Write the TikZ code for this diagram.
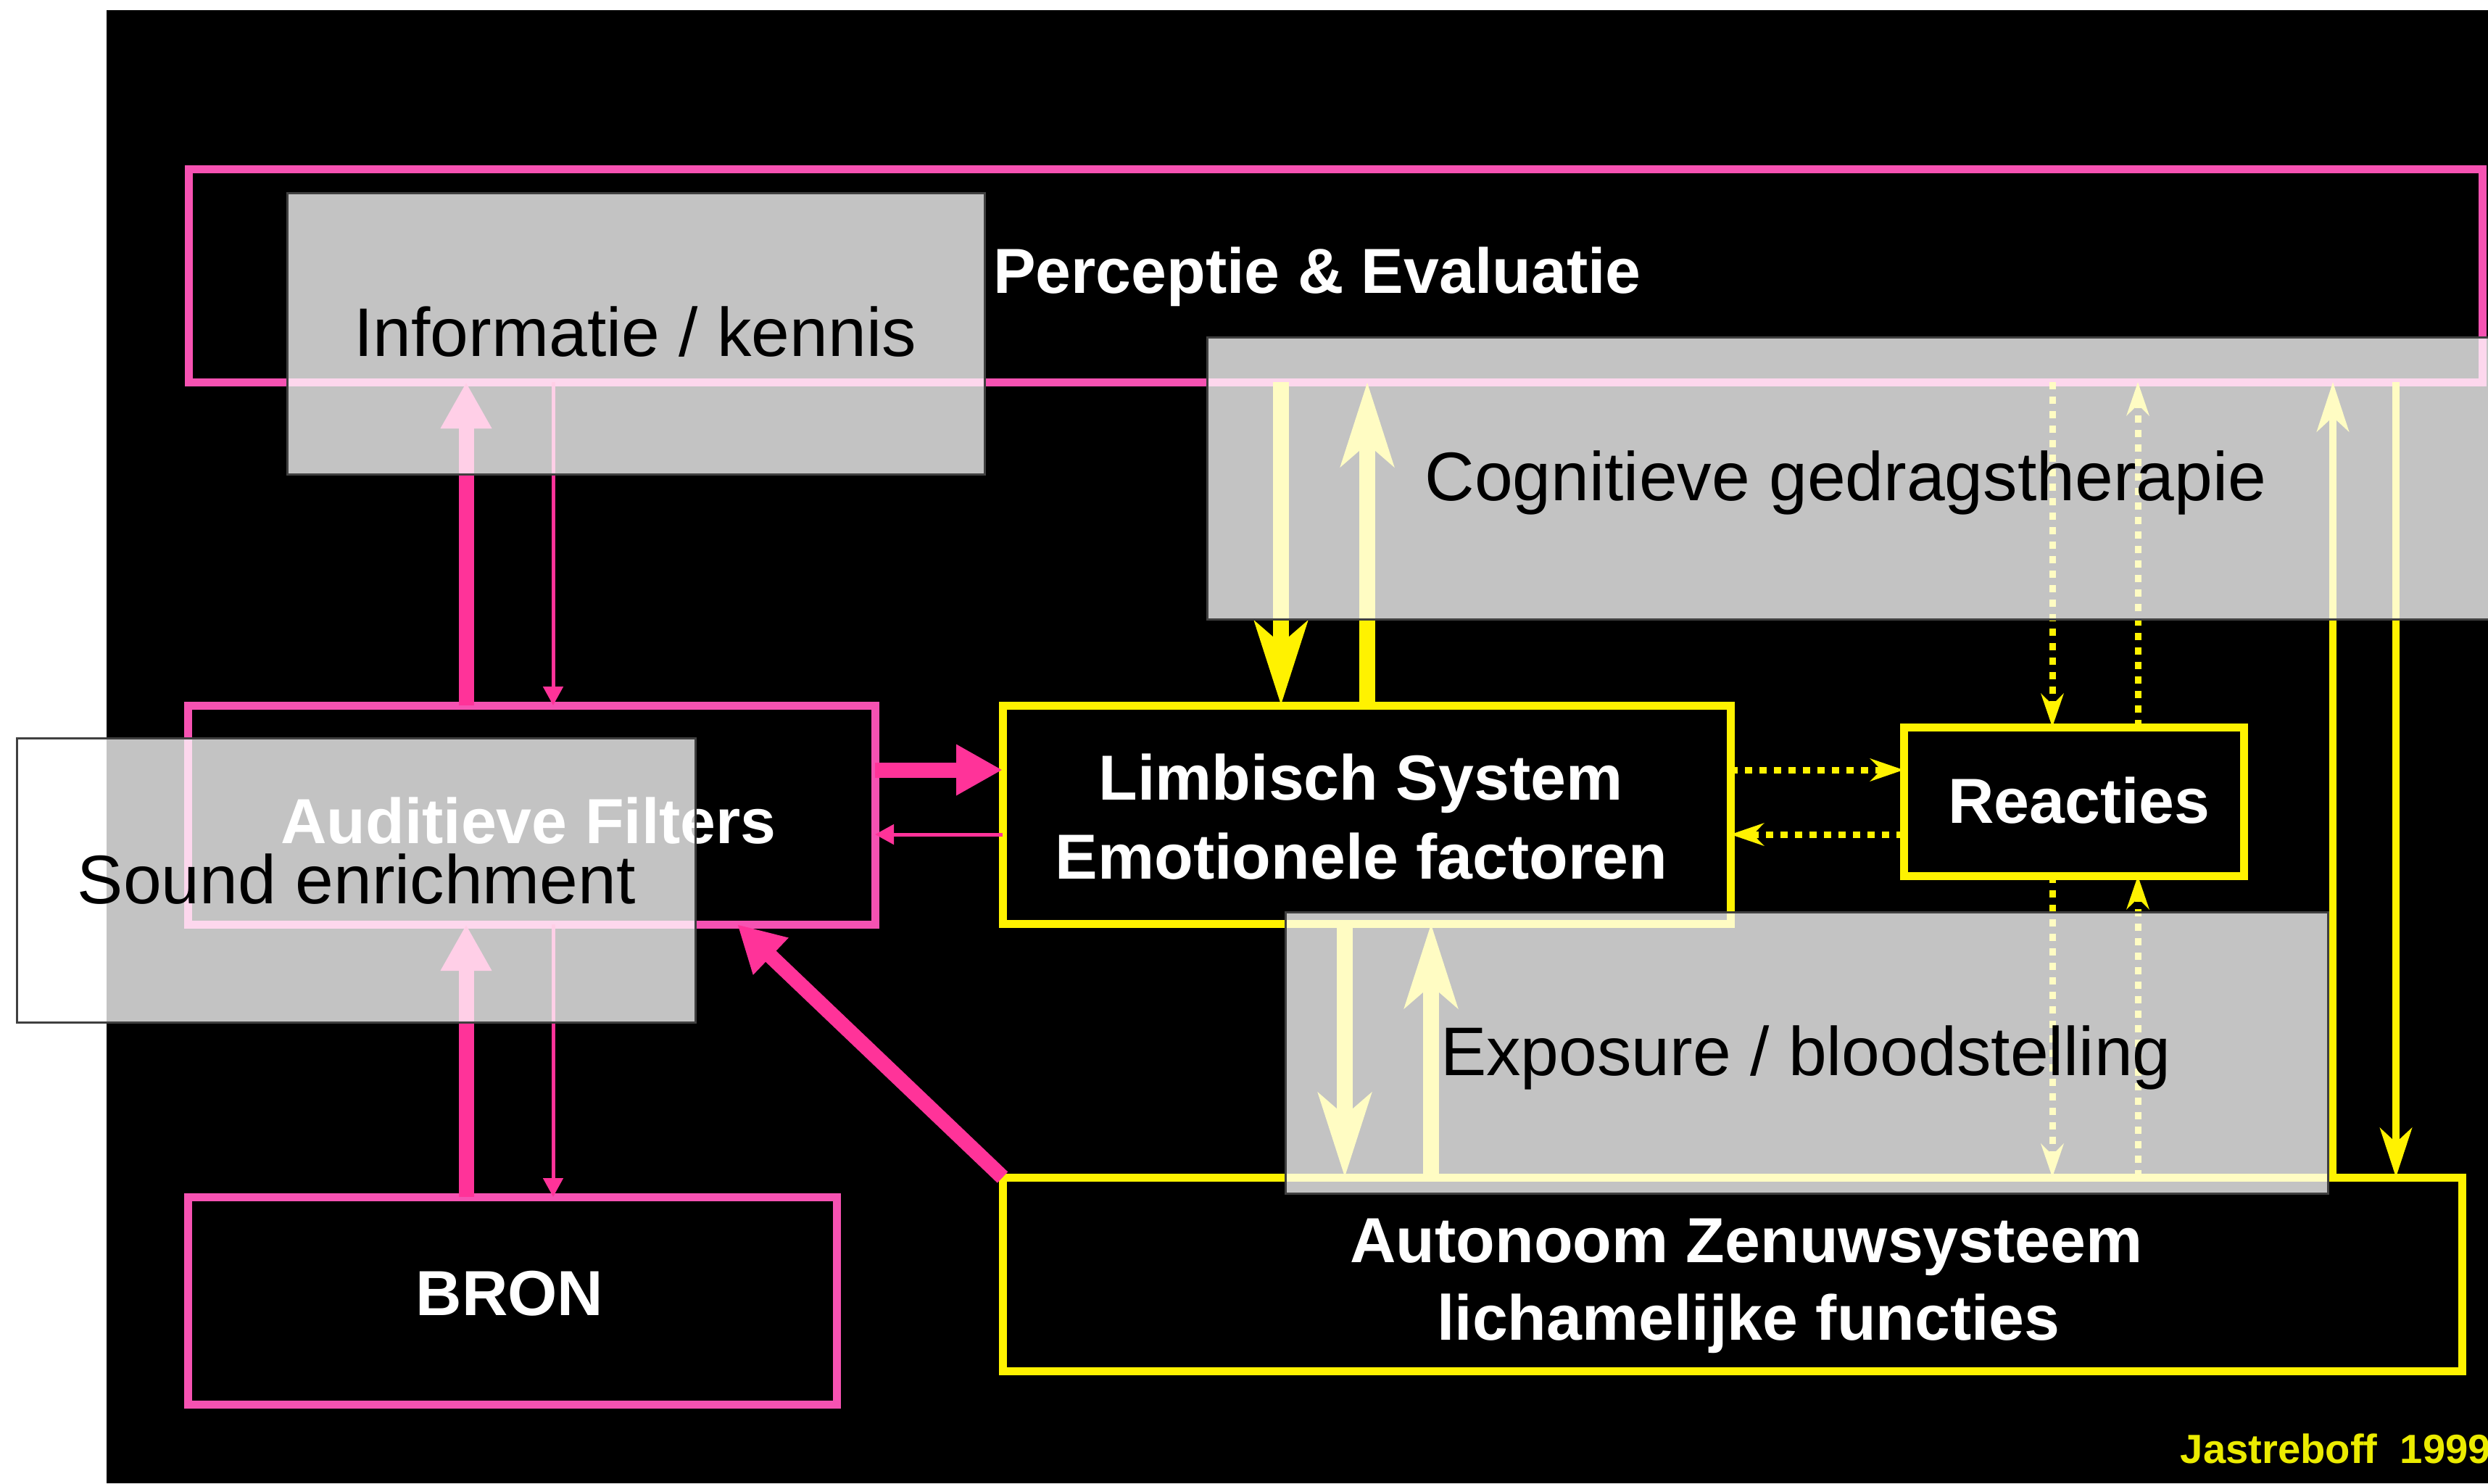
\documentclass[tikz,border=0pt]{standalone}
\usepackage{fontspec}
\setmainfont{Liberation Sans}
\usetikzlibrary{arrows.meta,fit}
\definecolor{boxpink}{RGB}{246,82,178}
\definecolor{arrowpink}{RGB}{255,51,153}
\definecolor{boxgrey}{RGB}{195,195,195}
\definecolor{framegrey}{RGB}{64,64,64}
\definecolor{signyellow}{RGB}{235,235,0}
\tikzset{
  pinkbox/.style={draw=boxpink, line width=1.1mm, inner sep=0pt, outer sep=0pt},
  yellowbox/.style={draw=yellow, line width=1.1mm, inner sep=0pt, outer sep=0pt},
  wlabel/.style={text=white, font=\bfseries\fontsize{25}{30}\selectfont, anchor=base, inner sep=0pt},
  blabel/.style={text=black, font=\fontsize{27}{32}\selectfont, anchor=base, inner sep=0pt},
  greyfill/.style={fill=boxgrey, inner sep=0pt, outer sep=0pt},
  greyframe/.style={draw=framegrey, line width=0.3mm, inner sep=0pt, outer sep=0pt},
  pthick/.style={draw=arrowpink, line width=2.1mm, -{Triangle[length=6.4mm,width=6.6mm]}},
  pthin/.style={draw=arrowpink, line width=0.5mm, -{Triangle[length=2.6mm,width=2.7mm]}},
  ythick/.style={draw=yellow, line width=2.2mm, -{Stealth[length=11.5mm,width=7.2mm,inset=3mm]}},
  ythin/.style={draw=yellow, line width=1mm, -{Stealth[length=6.8mm,width=4.4mm,inset=2mm]}},
  ydot/.style={draw=yellow, line width=0.9mm, dash pattern=on 1mm off 1mm, %
    -{Stealth[length=4.6mm,width=3.1mm,inset=1.5mm]}}
}
\begin{document}
\begin{tikzpicture}
      \useasboundingbox (0,0) rectangle (34.32,-20.46) ;
      \fill[white] (0,0) rectangle (34.32,-20.46) ;
      \fill[black] (1.47,-0.14) rectangle (34.32,-20.46) ;
      % boxes
      \node[pinkbox, minimum width=31.64cm, minimum height=2.94cm] (perc) at (18.42,-3.80) {} ;
      \node[pinkbox, minimum width=9.48cm, minimum height=3.02cm] (aud) at (7.33,-11.24) {} ;
      \node[pinkbox, minimum width=8.95cm, minimum height=2.86cm] (bron) at (7.065,-17.94) {} ;
      \node[yellowbox, minimum width=10.04cm, minimum height=3.01cm] (limb) at (18.85,-11.235) {} ;
      \node[yellowbox, minimum width=4.69cm, minimum height=2.05cm] (reac) at (28.605,-11.055) {} ;
      \node[yellowbox, minimum width=20.13cm, minimum height=2.67cm] (auto) at (23.895,-17.575) {} ;
      % columns and rows of the connectors
      \coordinate (pkup) at (6.43,0) ;
      \coordinate (pkdn) at (7.63,0) ;
      \coordinate (pkdiag) at (10.17,0) ;
      \coordinate (lbdn) at (17.67,0) ;
      \coordinate (lbup) at (18.86,0) ;
      \coordinate (andn) at (18.55,0) ;
      \coordinate (anup) at (19.74,0) ;
      \coordinate (rcdn) at (28.31,0) ;
      \coordinate (rcup) at (29.49,0) ;
      \coordinate (faup) at (32.18,0) ;
      \coordinate (fadn) at (33.05,0) ;
      \coordinate (rowa) at (0,-10.62) ;
      \coordinate (rowb) at (0,-11.51) ;
      % pink connectors
      \draw[pthick] (aud.north -| pkup) -- (perc.south -| pkup) ;
      \draw[pthin] (perc.south -| pkdn) -- (aud.north -| pkdn) ;
      \draw[pthick] (bron.north -| pkup) -- (aud.south -| pkup) ;
      \draw[pthin] (aud.south -| pkdn) -- (bron.north -| pkdn) ;
      \draw[pthick] (aud.east |- rowa) -- (limb.west |- rowa) ;
      \draw[pthin] (limb.west |- rowb) -- (aud.east |- rowb) ;
      \draw[pthick] (auto.north west) -- (aud.south -| pkdiag) ;
      % yellow connectors
      \draw[ythick] (perc.south -| lbdn) -- (limb.north -| lbdn) ;
      \draw[ythick] (limb.north -| lbup) -- (perc.south -| lbup) ;
      \draw[ythick] (limb.south -| andn) -- (auto.north -| andn) ;
      \draw[ythick] (auto.north -| anup) -- (limb.south -| anup) ;
      \draw[ythin] (auto.north -| faup) -- (perc.south -| faup) ;
      \draw[ythin] (perc.south -| fadn) -- (auto.north -| fadn) ;
      \draw[ydot] (limb.east |- rowa) -- (reac.west |- rowa) ;
      \draw[ydot] (reac.west |- rowb) -- (limb.east |- rowb) ;
      \draw[ydot] (perc.south -| rcdn) -- (reac.north -| rcdn) ;
      \draw[ydot] (reac.north -| rcup) -- (perc.south -| rcup) ;
      \draw[ydot] (reac.south -| rcdn) -- (auto.north -| rcdn) ;
      \draw[ydot] (auto.north -| rcup) -- (reac.south -| rcup) ;
      % labels
      \node[wlabel] (perctxt) at (18.17,-4.04) {Perceptie \& Evaluatie} ;
      \node[wlabel] (audtxt) at (7.29,-11.63) {Auditieve Filters} ;
      \node[wlabel] (limbtxt) at (18.77,-11.03) {Limbisch System} ;
      \node[wlabel] (emotxt) at (18.78,-12.12) {Emotionele factoren} ;
      \node[wlabel] (reactxt) at (28.68,-11.35) {Reacties} ;
      \node[wlabel] (brontxt) at (7.03,-18.14) {BRON} ;
      \node[wlabel] (autotxt) at (24.09,-17.41) {Autonoom Zenuwsysteem} ;
      \node[wlabel] (lichtxt) at (24.12,-18.48) {lichamelijke functies} ;
      % therapy boxes
      \begin{scope}[blend mode=screen]
        \node[greyfill, minimum width=9.62cm, minimum height=3.88cm] (info) at (8.77,-4.60) {} ;
        \node[greyfill, minimum width=17.70cm, minimum height=3.89cm] (cogn) at (25.50,-6.595) {} ;
        \node[greyfill, minimum width=9.36cm, minimum height=3.92cm] (sound) at (4.91,-12.14) {} ;
        \node[greyfill, minimum width=14.38cm, minimum height=3.88cm] (expo) at (24.92,-14.52) {} ;
      \end{scope}
      \node[greyframe, fit=(info)] (infoframe) {} ;
      \node[greyframe, fit=(cogn)] (cognframe) {} ;
      \node[greyframe, fit=(sound)] (soundframe) {} ;
      \node[greyframe, fit=(expo)] (expoframe) {} ;
      \node[blabel] (infotxt) at (8.76,-4.91) {Informatie / kennis} ;
      \node[blabel] (cogntxt) at (25.46,-6.90) {Cognitieve gedragstherapie} ;
      \node[blabel] (soundtxt) at (4.92,-12.46) {Sound enrichment} ;
      \node[blabel] (expotxt) at (24.91,-14.83) {Exposure / bloodstelling} ;
      \node[text=signyellow, font=\bfseries\fontsize{16}{19}\selectfont, anchor=base west, %
        inner sep=0pt] (sign) at (30.07,-20.18) {Jastreboff~~1999} ;
    \end{tikzpicture}
\end{document}
